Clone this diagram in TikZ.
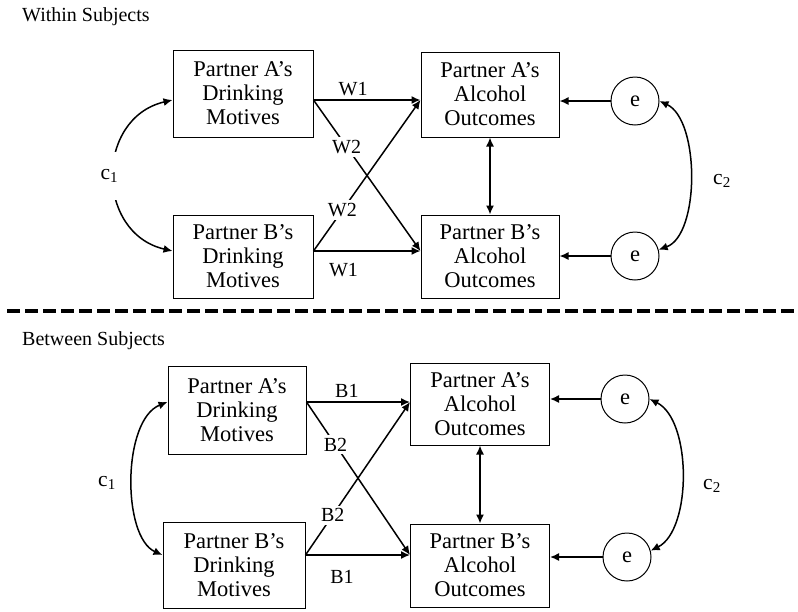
\documentclass[tikz,border=0pt]{standalone}
\usepackage{fontspec}
\setmainfont{Liberation Serif}
\usetikzlibrary{arrows.meta}
\begin{document}
\begin{tikzpicture}[x=1pt,y=-1pt,
  txt/.style={font=\fontsize{20}{24}\selectfont},
  btxt/.style={font=\fontsize{22.5}{24}\selectfont},
  box/.style={btxt,draw,line width=1pt,align=center,inner sep=0pt},
  err/.style={btxt,draw,circle,line width=1pt,minimum size=48pt,inner sep=0pt},
  tip/.style={-{Latex[length=9pt,width=8pt]}},
  arr/.style={line width=1.5pt,tip},
  dbl/.style={line width=1.5pt,{Latex[length=9pt,width=8pt]}-{Latex[length=9pt,width=8pt]}},
  lbl/.style={txt,inner sep=1pt},
  clbl/.style={font=\fontsize{21.5}{24}\selectfont,inner sep=1pt},
  cut/.style={lbl,fill=white,inner sep=3pt}]
\useasboundingbox (0,0) rectangle (798,611);

% ---------------- Within subjects ----------------
\node[txt,anchor=base west,inner sep=0pt] (hw) at (22,21.5) {Within Subjects};

\node[box,minimum width=140pt,minimum height=87pt] (mA) at (243,93.5) {Partner A’s\\Drinking\\Motives};
\node[box,minimum width=140pt,minimum height=83pt] (mB) at (243,256.5) {Partner B’s\\Drinking\\Motives};
\node[box,minimum width=138pt,minimum height=85pt] (oA) at (490,94.5) {Partner A’s\\Alcohol\\Outcomes};
\node[box,minimum width=138pt,minimum height=83pt] (oB) at (490,256.5) {Partner B’s\\Alcohol\\Outcomes};
\node[err] (eA) at (635,101) {e};
\node[err] (eB) at (635,256) {e};

\coordinate (t1) at (0,100);
\coordinate (t2) at (0,251);

\draw[arr] (mA.east |- t1) -- node[lbl,above=2pt,pos=0.37] {W1} (oA.west |- t1);
\draw[arr] (mA.east |- t1) -- node[cut,pos=0.31] {W2} (oB.west |- t2);
\draw[arr] (mB.east |- t2) -- node[cut,pos=0.27] {W2} (oA.west |- t1);
\draw[arr] (mB.east |- t2) -- node[lbl,below=11pt,pos=0.28] {W1} (oB.west |- t2);

\draw[dbl] (oA.south) -- (oB.north);
\draw[arr] (eA.west) -- (oA.east |- eA.west);
\draw[arr] (eB.west) -- (oB.east |- eB.west);

\draw[dbl] (mA.west |- t1) .. controls (95,118) and (95,233) ..
  node[cut,clbl,xshift=-5pt,minimum height=48pt] (c1) {c\textsubscript{1}} (mB.west |- t2);
\draw[dbl] (eA.east) .. controls (700,120) and (700,235) .. (eB.15);
\node[clbl] (c2) at (722,181) {c\textsubscript{2}};

% ---------------- Separator ----------------
\coordinate (s1) at (7,311);
\coordinate (s2) at (798,311);
\draw[line width=4pt,dash pattern=on 13pt off 5pt] (s1) -- (s2);

% ---------------- Between subjects ----------------
\node[txt,anchor=base west,inner sep=0pt] (hb) at (22,345) {Between Subjects};

\node[box,minimum width=138pt,minimum height=88pt] (mA2) at (237,410) {Partner A’s\\Drinking\\Motives};
\node[box,minimum width=142pt,minimum height=86pt] (mB2) at (234,565) {Partner B’s\\Drinking\\Motives};
\node[box,minimum width=139pt,minimum height=82pt] (oA2) at (480,404) {Partner A’s\\Alcohol\\Outcomes};
\node[box,minimum width=139pt,minimum height=83pt] (oB2) at (480,565.5) {Partner B’s\\Alcohol\\Outcomes};
\node[err] (eA2) at (625,399) {e};
\node[err] (eB2) at (627,557) {e};

\coordinate (b1) at (0,402);
\coordinate (b2) at (0,555);

\draw[arr] (mA2.east |- b1) -- node[lbl,above=3pt,pos=0.39] {B1} (oA2.west |- b1);
\draw[arr] (mA2.east |- b1) -- node[cut,pos=0.28] {B2} (oB2.west |- b2);
\draw[arr] (mB2.east |- b2) -- node[cut,pos=0.26] {B2} (oA2.west |- b1);
\draw[arr] (mB2.east |- b2) -- node[lbl,below=14pt,pos=0.35] {B1} (oB2.west |- b2);

\draw[dbl] (oA2.south) -- (oB2.north);
\draw[arr] (eA2.west) -- (oA2.east |- eA2.west);
\draw[arr] (eB2.west) -- (oB2.east |- eB2.west);

\draw[dbl] (mA2.west |- b1) .. controls (122,420) and (122,537) .. (mB2.west |- b2);
\node[clbl] (c1b) at (107,483) {c\textsubscript{1}};
\draw[dbl] (eA2.east) .. controls (692,420) and (692,530) .. (eB2.15);
\node[clbl] (c2b) at (712,486) {c\textsubscript{2}};
\end{tikzpicture}
\end{document}
